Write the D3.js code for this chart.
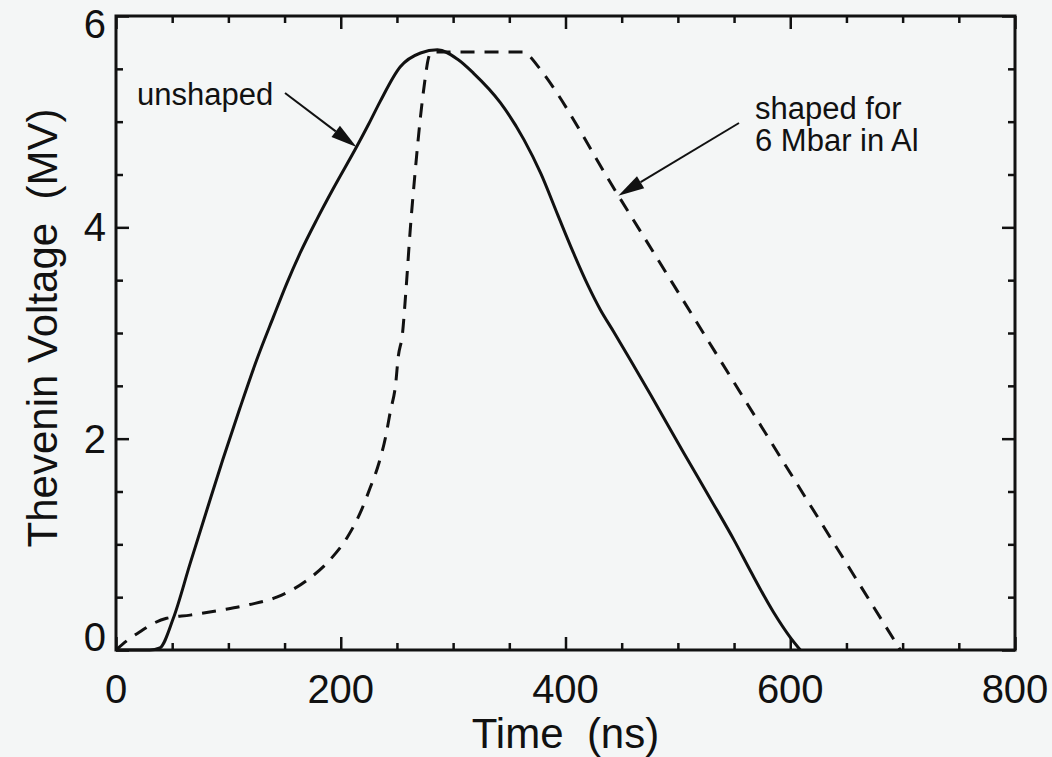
<!DOCTYPE html>
<html>
<head>
<meta charset="utf-8">
<script src="https://cdn.jsdelivr.net/npm/d3@7"></script>
<style>
  html, body { margin: 0; padding: 0; background: #f4f6f6; }
  svg { display: block; }
  text { font-family: "Liberation Sans", Arial, Helvetica, sans-serif; fill: #111; white-space: pre; }
</style>
</head>
<body>
<svg id="chart" width="1052" height="757"></svg>
<script>
// Unshaped Thevenin voltage pulse (time in ns, voltage in MV)
const unshapedTime = [0, 30, 39, 51, 66, 81, 95, 110, 125, 140, 152, 164, 179, 193, 214, 225, 235, 253, 271, 286,
                      304, 318, 342, 363, 378, 393, 407, 420, 431, 443, 458, 476, 505, 529, 550, 565, 585, 600, 609];
const unshapedVolt = [0, 0, 0.02, 0.30, 0.82, 1.33, 1.80, 2.28, 2.74, 3.15, 3.47, 3.76, 4.08, 4.36, 4.76, 4.98, 5.19, 5.52, 5.65, 5.68,
                      5.59, 5.46, 5.18, 4.83, 4.51, 4.12, 3.76, 3.45, 3.22, 3.01, 2.74, 2.41, 1.87, 1.43, 1.04, 0.74, 0.36, 0.12, 0];

// Pulse shaped for 6 Mbar in Al
const shapedTime = [0, 10, 21, 33, 45, 66, 95, 119, 143, 170, 191, 206, 217, 226, 234, 240, 244, 249, 251, 255,
                    258, 262, 266, 271, 275, 278, 281, 362, 368, 375, 447, 532, 698];
const shapedVolt = [0, 0.09, 0.17, 0.25, 0.30, 0.33, 0.38, 0.43, 0.50, 0.66, 0.86, 1.07, 1.29, 1.53, 1.77, 2.02, 2.25, 2.53, 2.76, 3.00,
                    3.40, 4.00, 4.50, 5.05, 5.40, 5.60, 5.66, 5.66, 5.62, 5.53, 4.30, 2.84, 0];

// Axis ticks
const xMajorTicks = [0, 200, 400, 600, 800];
const xMinorTicks = [50, 100, 150, 250, 300, 350, 450, 500, 550, 650, 700, 750];
const yMajorTicks = [0, 2, 4, 6];
const yMinorTicks = [0.5, 1, 1.5, 2.5, 3, 3.5, 4.5, 5, 5.5];

const xTitle = "Time  (ns)";
const yTitle = "Thevenin Voltage  (MV)";
const unshapedLabel = ["unshaped"];
const shapedLabel = ["shaped for", "6 Mbar in Al"];

const svg = d3.select("#chart");
const plotLeft = 116, plotRight = 1015, plotTop = 16, plotBottom = 650;

const x = d3.scaleLinear().domain([0, 800]).range([plotLeft, plotRight]);
const y = d3.scaleLinear().domain([0, 6]).range([plotBottom, plotTop]);

const ink = "#111";

// Curves
const line = d3.line().x(d => x(d[0])).y(d => y(d[1])).curve(d3.curveMonotoneX);
const unshaped = d3.zip(unshapedTime, unshapedVolt);
const shaped = d3.zip(shapedTime, shapedVolt);

svg.append("path").datum(unshaped)
  .attr("d", line).attr("fill", "none").attr("stroke", ink)
  .attr("stroke-width", 3).attr("stroke-linejoin", "round");

svg.append("path").datum(shaped)
  .attr("d", line).attr("fill", "none").attr("stroke", ink)
  .attr("stroke-width", 3).attr("stroke-dasharray", "14,10");

// Ticks on all four sides, pointing inward
function addAxis(gen, transform, ticks, size) {
  const g = svg.append("g").attr("transform", transform)
    .call(gen.tickValues(ticks).tickSize(size).tickFormat(""));
  g.select(".domain").remove();
  g.selectAll(".tick line").attr("stroke", ink).attr("stroke-width", 2.5);
}
const majorLen = 13, minorLen = 7;
addAxis(d3.axisBottom(x), `translate(0,${plotBottom})`, xMajorTicks, -majorLen);
addAxis(d3.axisBottom(x), `translate(0,${plotBottom})`, xMinorTicks, -minorLen);
addAxis(d3.axisTop(x), `translate(0,${plotTop})`, xMajorTicks, -majorLen);
addAxis(d3.axisTop(x), `translate(0,${plotTop})`, xMinorTicks, -minorLen);
addAxis(d3.axisLeft(y), `translate(${plotLeft},0)`, yMajorTicks, -majorLen);
addAxis(d3.axisLeft(y), `translate(${plotLeft},0)`, yMinorTicks, -minorLen);
addAxis(d3.axisRight(y), `translate(${plotRight},0)`, yMajorTicks, -majorLen);
addAxis(d3.axisRight(y), `translate(${plotRight},0)`, yMinorTicks, -minorLen);

// Frame
svg.append("rect")
  .attr("x", plotLeft).attr("y", plotTop)
  .attr("width", plotRight - plotLeft).attr("height", plotBottom - plotTop)
  .attr("fill", "none").attr("stroke", ink).attr("stroke-width", 3);

// Tick labels
svg.append("g").selectAll("text").data(xMajorTicks).join("text")
  .attr("x", d => x(d)).attr("y", 703)
  .attr("text-anchor", "middle").attr("font-size", 40)
  .text(d => d);

svg.append("g").selectAll("text").data(yMajorTicks).join("text")
  .attr("x", 106)
  .attr("y", d => Math.min(Math.max(y(d), plotTop + 8), plotBottom - 13) + 14)
  .attr("text-anchor", "end").attr("font-size", 40)
  .text(d => d);

// Axis titles
svg.append("text")
  .attr("x", (plotLeft + plotRight) / 2).attr("y", 748)
  .attr("text-anchor", "middle").attr("font-size", 42)
  .text(xTitle);

svg.append("text")
  .attr("transform", `translate(57,${(plotTop + plotBottom) / 2 - 5}) rotate(-90)`)
  .attr("text-anchor", "middle").attr("font-size", 42)
  .text(yTitle);

// Annotations with arrows
function arrow(x1, y1, x2, y2) {
  const ang = Math.atan2(y2 - y1, x2 - x1);
  const len = 26, half = 7;
  const bx = x2 - len * Math.cos(ang), by = y2 - len * Math.sin(ang);
  svg.append("line")
    .attr("x1", x1).attr("y1", y1).attr("x2", bx).attr("y2", by)
    .attr("stroke", ink).attr("stroke-width", 2);
  const px = -Math.sin(ang) * half, py = Math.cos(ang) * half;
  svg.append("path")
    .attr("d", `M${x2},${y2}L${bx + px},${by + py}L${bx - px},${by - py}Z`)
    .attr("fill", ink);
}

svg.append("g").selectAll("text").data(unshapedLabel).join("text")
  .attr("x", 137).attr("y", (d, i) => 105 + i * 32)
  .attr("font-size", 31).text(d => d);
// arrow tip sits on the unshaped curve at t = 214 ns
arrow(285, 93, x(214), y(4.76));

svg.append("g").selectAll("text").data(shapedLabel).join("text")
  .attr("x", 755).attr("y", (d, i) => 119 + i * 32)
  .attr("font-size", 31).text(d => d);
// arrow tip sits on the shaped curve at t = 447 ns
arrow(739, 123, x(447), y(4.30));
</script>
</body>
</html>
